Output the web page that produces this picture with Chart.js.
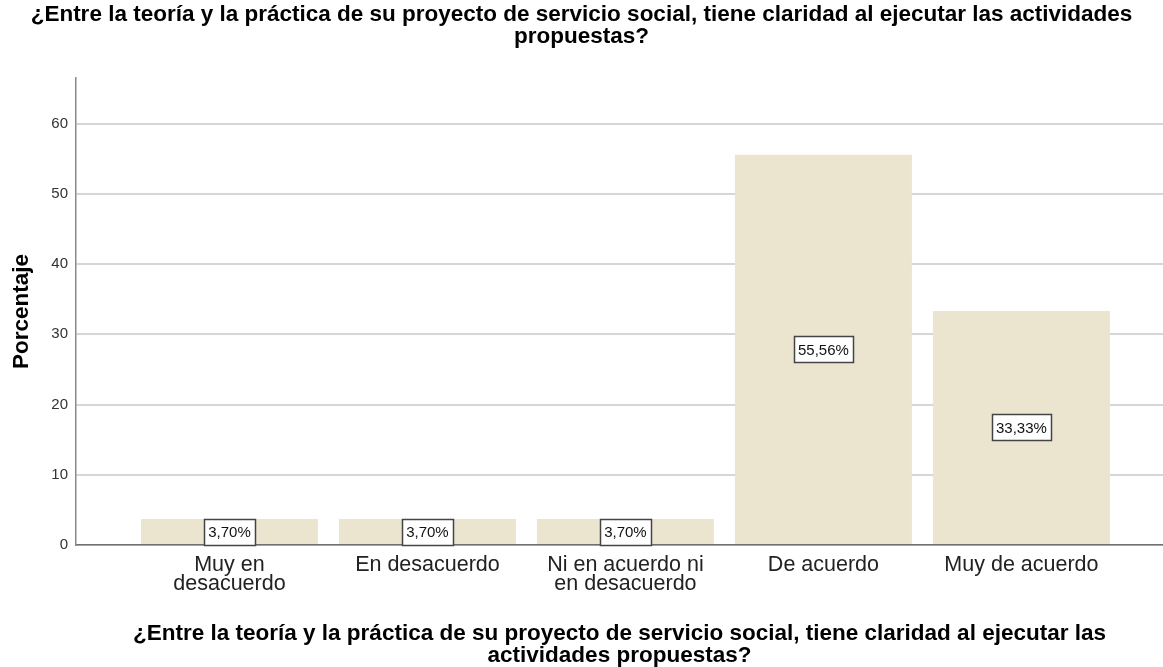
<!DOCTYPE html>
<html>
<head>
<meta charset="utf-8">
<script src="https://cdn.jsdelivr.net/npm/chart.js@4/dist/chart.umd.min.js"></script>
<style>
  html, body { margin: 0; padding: 0; background: #fff; }
  #wrap { width: 1163px; height: 667px; }
</style>
</head>
<body>
<div id="wrap"><canvas id="chart" width="1163" height="667"></canvas></div>
<script>
const questionLines = [
    '¿Entre la teoría y la práctica de su proyecto de servicio social, tiene claridad al ejecutar las actividades',
    'propuestas?'
];
const axisTitleLines = [
    '¿Entre la teoría y la práctica de su proyecto de servicio social, tiene claridad al ejecutar las',
    'actividades propuestas?'
];
const categories = [
    ['Muy en', 'desacuerdo'],
    ['En desacuerdo'],
    ['Ni en acuerdo ni', 'en desacuerdo'],
    ['De acuerdo'],
    ['Muy de acuerdo']
];
const percentages = [3.70, 3.70, 3.70, 55.56, 33.33];
const yTicks = [0, 10, 20, 30, 40, 50, 60];

const FONT = 'Arial, "Liberation Sans", sans-serif';

// white boxed percentage in the middle of each bar
const labelBoxes = {
    id: 'labelBoxes',
    afterDatasetsDraw(chart) {
        const ctx = chart.ctx;
        ctx.save();
        ctx.font = '15px ' + FONT;
        ctx.textAlign = 'center';
        ctx.textBaseline = 'middle';
        chart.getDatasetMeta(0).data.forEach((bar, i) => {
            const text = percentages[i].toFixed(2).replace('.', ',') + '%';
            const w = Math.round(ctx.measureText(text).width + 8);
            const h = 26;
            const cy = (bar.y + bar.base) / 2;
            const x0 = Math.round(bar.x - w / 2) + 0.5;
            const y0 = Math.round(cy - h / 2) + 0.5;
            ctx.fillStyle = '#ffffff';
            ctx.fillRect(x0, y0, w, h);
            ctx.strokeStyle = '#444444';
            ctx.lineWidth = 1.5;
            ctx.strokeRect(x0, y0, w, h);
            ctx.fillStyle = '#111111';
            ctx.fillText(text, bar.x, cy + 1);
        });
        ctx.restore();
    }
};

new Chart(document.getElementById('chart'), {
    type: 'bar',
    data: {
        datasets: [{
            data: percentages.map((v, i) => ({ x: i, y: v })),
            backgroundColor: '#ebe5d0',
            borderWidth: 0,
            barPercentage: 0.894,
            categoryPercentage: 1
        }]
    },
    options: {
        responsive: false,
        animation: false,
        layout: { padding: 0 },
        plugins: {
            legend: { display: false },
            tooltip: { enabled: false },
            title: {
                display: true,
                text: questionLines,
                color: '#000',
                font: { family: FONT, size: 22.5, weight: 'bold', lineHeight: '22px' },
                padding: { top: 4, bottom: 30 }
            }
        },
        scales: {
            x: {
                type: 'linear',
                offset: false,
                min: -0.775,
                max: 4.715,
                afterBuildTicks: s => { s.ticks = categories.map((_, i) => ({ value: i })); },
                afterFit: s => { s.height = 122; },
                ticks: {
                    callback: v => categories[v] || '',
                    color: '#222',
                    padding: 11,
                    maxRotation: 0,
                    autoSkip: false,
                    font: { family: FONT, size: 21.5, lineHeight: '19px' }
                },
                grid: { display: false, drawTicks: false, offset: false },
                border: { display: true, color: '#707070', width: 1.5 },
                title: {
                    display: true,
                    text: axisTitleLines,
                    color: '#000',
                    font: { family: FONT, size: 22.5, weight: 'bold', lineHeight: '22px' },
                    padding: { top: 0, bottom: 0 }
                }
            },
            y: {
                min: 0,
                max: 66.5,
                afterBuildTicks: s => { s.ticks = yTicks.map(v => ({ value: v })); },
                afterFit: s => { s.width = 76; },
                ticks: {
                    color: '#333',
                    padding: 8,
                    font: { family: FONT, size: 15 }
                },
                grid: { color: '#d6d6d6', lineWidth: 2, drawTicks: false },
                border: { display: true, color: '#8a8a8a', width: 1.5 },
                title: {
                    display: true,
                    text: 'Porcentaje',
                    color: '#000',
                    font: { family: FONT, size: 22.5, weight: 'bold', lineHeight: '22px' },
                    padding: { top: 11, bottom: 0 }
                }
            }
        }
    },
    plugins: [labelBoxes]
});
</script>
</body>
</html>
